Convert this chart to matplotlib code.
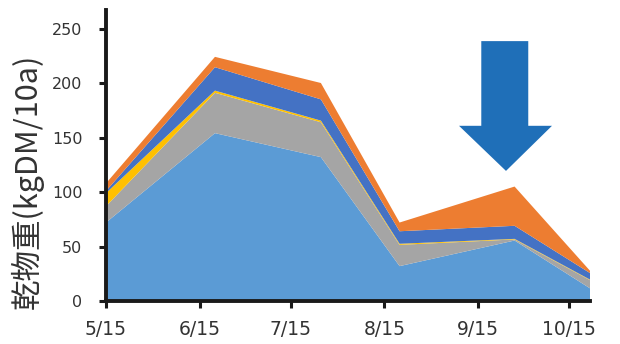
import matplotlib
matplotlib.use("Agg")
import matplotlib.pyplot as plt
import matplotlib.dates as mdates
from matplotlib.patches import Polygon
import numpy as np
import datetime as dt

# sampling dates and stacked dry-matter layers (kgDM/10a)
dates = [dt.date(2020, 5, 15), dt.date(2020, 6, 20), dt.date(2020, 7, 25),
         dt.date(2020, 8, 20), dt.date(2020, 9, 27), dt.date(2020, 10, 22)]
layer_blue = [72, 154, 132, 32, 55.5, 11.5]
layer_gray = [15, 37, 32, 19.5, 1, 7.5]
layer_yellow = [12, 2, 1.5, 1, 0.5, 0.5]
layer_darkblue = [2, 21.5, 19.5, 11.5, 12, 6]
layer_orange = [7, 9.5, 15, 8, 36, 2]

tick_dates = [dt.date(2020, m, 15) for m in range(5, 11)]
tick_labels = ["5/15", "6/15", "7/15", "8/15", "9/15", "10/15"]

colors = ["#5B9BD5", "#A5A5A5", "#FFC000", "#4472C4", "#ED7D31"]

plt.rcParams['font.family'] = ['DejaVu Sans', 'Noto Sans CJK JP']

fig = plt.figure(figsize=(6.2, 3.44), dpi=100)
ax = fig.add_axes([0.171, 0.125, 0.781, 0.846])

x = mdates.date2num(dates)
ax.stackplot(x, layer_blue, layer_gray, layer_yellow, layer_darkblue, layer_orange,
             colors=colors, linewidth=0)

ax.set_xlim(x[0], x[-1])
ax.set_ylim(0, 267)
ax.set_xticks(mdates.date2num(tick_dates))
ax.set_xticklabels(tick_labels)
ax.set_yticks([0, 50, 100, 150, 200, 250])

for s in ["top", "right"]:
    ax.spines[s].set_visible(False)
for s in ["left", "bottom"]:
    ax.spines[s].set_linewidth(2.8)
    ax.spines[s].set_color("#1a1a1a")
    ax.spines[s].set_zorder(5)
ax.tick_params(direction="out", length=5, width=2.2, colors="#1a1a1a",
               labelcolor="#333333")
ax.tick_params(axis="x", labelsize=13.5, pad=9)
ax.tick_params(axis="y", labelsize=11.5, pad=12)
ax.set_ylabel("乾物重(kgDM/10a)", fontsize=22, color="#333333",
              family=['Noto Sans CJK JP', 'DejaVu Sans'])
ax.yaxis.set_label_coords(-0.128, 0.41)

# big down arrow (axes fraction coords)
arrow = Polygon([(0.775, 0.893), (0.872, 0.893), (0.872, 0.602), (0.921, 0.602),
                 (0.826, 0.447), (0.729, 0.602), (0.775, 0.602)],
                closed=True, transform=ax.transAxes, facecolor="#1F6FB8",
                edgecolor="none", zorder=6)
ax.add_patch(arrow)

fig.savefig("out.png", dpi=100)
